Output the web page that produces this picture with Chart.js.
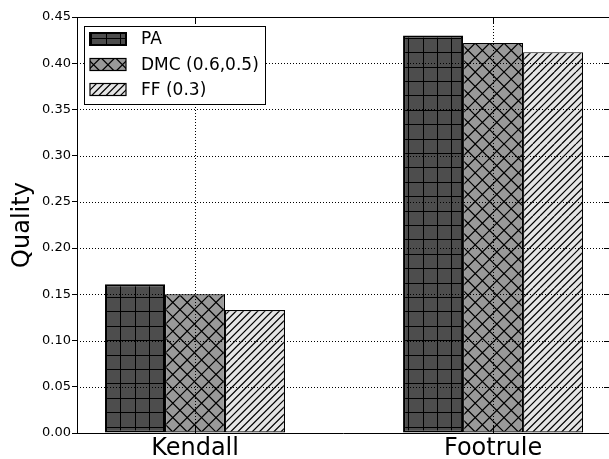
<!DOCTYPE html>
<html>
<head>
<meta charset="utf-8">
<script src="https://cdn.jsdelivr.net/npm/chart.js@4/dist/chart.umd.min.js"></script>
<style>
  html, body { margin: 0; padding: 0; background: #fff; }
  #wrap { width: 609px; height: 459px; }
</style>
</head>
<body>
<div id="wrap"><canvas id="c" width="609" height="459"></canvas></div>
<script>
// Rank-aggregation quality per distance measure
const categories = ['Kendall', 'Footrule'];
const seriesNames = ['PA', 'DMC (0.6,0.5)', 'FF (0.3)'];
const paValues = [0.161, 0.430];
const dmcValues = [0.150, 0.422];
const ffValues = [0.133, 0.412];
const yTickValues = [0.00, 0.05, 0.10, 0.15, 0.20, 0.25, 0.30, 0.35, 0.40, 0.45];

const FONT = "'DejaVu Sans', 'Liberation Sans', sans-serif";
const categoryPositions = categories.map((_, i) => i);

// Hatched fills built on a 72px tile so fractional line periods repeat cleanly
function hatch(fill, kind, period, dx, dy) {
  const size = 72;
  const c = document.createElement('canvas');
  c.width = size; c.height = size;
  const g = c.getContext('2d');
  g.fillStyle = fill;
  g.fillRect(0, 0, size, size);
  g.strokeStyle = '#000';
  g.beginPath();
  if (kind === 'grid') {
    g.lineWidth = 1;
    for (let p = 0; p < size - 0.01; p += period) {
      const q = Math.round(p) + 0.5;
      g.moveTo(q, 0); g.lineTo(q, size);
      g.moveTo(0, q); g.lineTo(size, q);
    }
  }
  if (kind === 'slash' || kind === 'cross') {
    g.lineWidth = 1.2;
    for (let o = -size; o <= size + 0.01; o += period) {
      g.moveTo(o, size); g.lineTo(o + size, 0);
    }
  }
  if (kind === 'cross') {
    for (let o = -size; o <= size + 0.01; o += period) {
      g.moveTo(o, 0); g.lineTo(o + size, size);
    }
  }
  g.stroke();
  const pat = g.createPattern(c, 'repeat');
  if (pat.setTransform && (dx || dy)) pat.setTransform(new DOMMatrix().translate(dx || 0, dy || 0));
  return pat;
}

const fills = [
  hatch('#4d4d4d', 'grid', 14.4, 5, 9),
  hatch('#999999', 'cross', 14.4, 0, 0),
  hatch('#e5e5e5', 'slash', 7.2, 0, 0)
];
const edgeWidths = [2, 1.2, 1.2];
const seriesValues = [paValues, dmcValues, ffValues];

const datasets = seriesNames.map((name, i) => ({
  label: name,
  data: categoryPositions.map((p, j) => ({ x: p, y: seriesValues[i][j] })),
  backgroundColor: fills[i],
  borderColor: '#000',
  borderWidth: edgeWidths[i],
  borderSkipped: false,
  barPercentage: 1.0,
  categoryPercentage: 0.604
}));

// Dotted grid drawn over the bars, plus the top spine and inward tick marks
const framePlugin = {
  id: 'frame',
  afterDatasetsDraw(chart) {
    const { ctx, chartArea: a, scales: { x, y } } = chart;
    ctx.save();
    ctx.strokeStyle = '#000';
    ctx.lineWidth = 1;
    ctx.setLineDash([1, 2]);
    ctx.beginPath();
    yTickValues.forEach(v => {
      if (v > 0 && v < 0.45) {
        const py = Math.round(y.getPixelForValue(v)) + 0.5;
        ctx.moveTo(a.left, py); ctx.lineTo(a.right, py);
      }
    });
    categoryPositions.forEach(v => {
      const px = Math.round(x.getPixelForValue(v)) + 0.5;
      ctx.moveTo(px, a.top); ctx.lineTo(px, a.bottom);
    });
    ctx.stroke();
    ctx.setLineDash([]);
    ctx.beginPath();
    ctx.moveTo(a.left, a.top + 0.5); ctx.lineTo(a.right, a.top + 0.5);
    yTickValues.forEach(v => {
      const py = Math.round(y.getPixelForValue(v)) + 0.5;
      ctx.moveTo(a.right - 5, py); ctx.lineTo(a.right, py);
    });
    categoryPositions.forEach(v => {
      const px = Math.round(x.getPixelForValue(v)) + 0.5;
      ctx.moveTo(px, a.top); ctx.lineTo(px, a.top + 7);
      ctx.moveTo(px, a.bottom); ctx.lineTo(px, a.bottom - 7);
    });
    ctx.stroke();
    ctx.restore();
  }
};

// Boxed legend in the upper-left corner of the plot
const legendPlugin = {
  id: 'boxLegend',
  afterDraw(chart) {
    const ctx = chart.ctx;
    ctx.save();
    ctx.fillStyle = '#fff';
    ctx.fillRect(84, 26, 181, 78);
    ctx.strokeStyle = '#000';
    ctx.lineWidth = 1;
    ctx.strokeRect(84.5, 26.5, 181, 78);
    const rows = [39, 64.5, 89.5];
    chart.data.datasets.forEach((ds, i) => {
      const cy = rows[i];
      ctx.fillStyle = ds.backgroundColor;
      ctx.fillRect(90, cy - 6, 36, 12);
      ctx.lineWidth = ds.borderWidth;
      ctx.strokeStyle = '#000';
      ctx.strokeRect(90, cy - 6, 36, 12);
      ctx.fillStyle = '#000';
      ctx.font = '17px ' + FONT;
      ctx.textAlign = 'left';
      ctx.textBaseline = 'middle';
      ctx.fillText(ds.label, 141, cy + 1);
    });
    ctx.restore();
  }
};

new Chart(document.getElementById('c'), {
  type: 'bar',
  data: { datasets },
  options: {
    responsive: false,
    animation: false,
    devicePixelRatio: 1,
    layout: { padding: { top: 17, right: 0, left: 0, bottom: 0 } },
    plugins: { legend: { display: false }, tooltip: { enabled: false } },
    scales: {
      x: {
        type: 'linear',
        offset: false,
        min: -0.396,
        max: 1.389,
        afterBuildTicks: s => { s.ticks = categoryPositions.map(v => ({ value: v })); },
        afterFit: s => { s.height = 26; },
        ticks: {
          autoSkip: false,
          maxRotation: 0,
          padding: 1,
          color: '#000',
          font: { family: FONT, size: 24 },
          callback: v => categories[v] ?? ''
        },
        grid: { offset: false, drawOnChartArea: false, drawTicks: false },
        border: { display: true, color: '#000', width: 1 }
      },
      y: {
        min: 0,
        max: 0.45,
        afterBuildTicks: s => { s.ticks = yTickValues.map(v => ({ value: v })); },
        afterFit: s => { s.width = 77; },
        ticks: {
          padding: 1,
          color: '#000',
          font: { family: FONT, size: 13 },
          callback: v => Number(v).toFixed(2)
        },
        grid: { drawOnChartArea: false, drawTicks: true, tickLength: 5, color: '#000' },
        border: { display: true, color: '#000', width: 1 },
        title: {
          display: true,
          text: 'Quality',
          color: '#000',
          font: { family: FONT, size: 24 },
          padding: { top: 8.5, bottom: 0 }
        }
      }
    }
  },
  plugins: [framePlugin, legendPlugin]
});
</script>
</body>
</html>
